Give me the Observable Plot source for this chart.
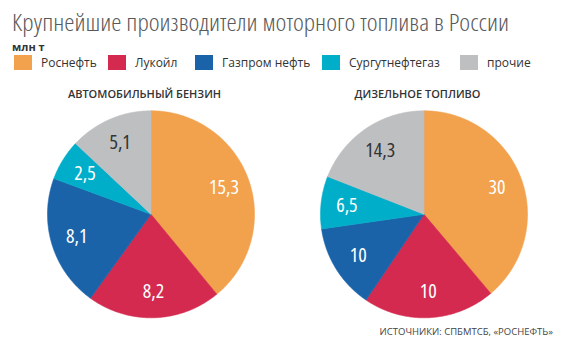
<!DOCTYPE html>
<html>
<head>
<meta charset="utf-8">
<script src="https://cdn.jsdelivr.net/npm/d3@7"></script>
<script src="https://cdn.jsdelivr.net/npm/@observablehq/plot@0.6"></script>
<style>
  html, body { margin: 0; padding: 0; background: #fff; }
  body { width: 570px; height: 353px; overflow: hidden; font-family: "Open Sans", sans-serif; position: relative; }
  #header { position: relative; height: 80px; }
  #title { position: absolute; left: 12px; top: 10px; font-size: 23px; font-weight: 300; color: #58595b; white-space: nowrap; line-height: 24px; font-stretch: 80%; transform-origin: 0 50%; }
  #unit { position: absolute; left: 12px; top: 39.5px; font-size: 11px; font-weight: 700; color: #333; line-height: 13px; }
  #legend { position: absolute; left: 0; top: 55px; width: 570px; height: 16px; }
  .item { position: absolute; top: 0; display: flex; align-items: center; font-size: 12px; color: #333; line-height: 15px; white-space: nowrap; }
  .sw { width: 18px; height: 15px; margin-right: 9px; }
  #source { position: absolute; right: 17px; top: 325px; font-size: 9.5px; color: #444; white-space: nowrap; }
</style>
</head>
<body>
<div id="header">
  <div id="title"></div>
  <div id="unit"></div>
  <div id="legend"></div>
</div>
<div id="chart"></div>
<div id="source"></div>
<script>
// ---- data ----
const titleText = "Крупнейшие производители моторного топлива в России";
const unitText = "млн т";
const sourceText = "ИСТОЧНИКИ: СПБМТСБ, «РОСНЕФТЬ»";
const companies = ["Роснефть", "Лукойл", "Газпром нефть", "Сургутнефтегаз", "прочие"];
const colors = ["#f2a14d", "#d42a4f", "#1b63a9", "#00aeca", "#bebfc1"];
const charts = ["АВТОМОБИЛЬНЫЙ БЕНЗИН", "ДИЗЕЛЬНОЕ ТОПЛИВО"];
// labelled values, mln t
const petrolValues = [15.3, 8.2, 8.1, 2.5, 5.1];
const dieselValues = [30, 10, 10, 6.5, 14.3];
// slice sizes as drawn in the diesel pie (mln t)
const dieselDrawn = [27.5, 14.6, 9.4, 5.8, 13.5];
const petrolLabels = ["15,3", "8,2", "8,1", "2,5", "5,1"];
const dieselLabels = ["30", "10", "10", "6,5", "14,3"];

// ---- header ----
const titleEl = document.getElementById("title");
titleEl.textContent = titleText;
document.getElementById("unit").textContent = unitText;
document.getElementById("source").textContent = sourceText;
const legend = document.getElementById("legend");
const legendLeft = [14, 108, 195, 322, 460];
companies.forEach((c, i) => {
  const it = document.createElement("div");
  it.className = "item";
  it.style.left = legendLeft[i] + "px";
  const sw = document.createElement("div");
  sw.className = "sw";
  sw.style.background = colors[i];
  const t = document.createElement("span");
  t.textContent = c;
  it.appendChild(sw); it.appendChild(t);
  legend.appendChild(it);
});
// fit the title to its width in the reference
const tw = titleEl.getBoundingClientRect().width;
titleEl.style.transform = `scaleX(${497 / tw})`;

// ---- build slice geometry through d3.pie (angles) ----
const pies = [
  {chart: charts[0], sizes: petrolValues, labels: petrolLabels},
  {chart: charts[1], sizes: dieselDrawn, labels: dieselLabels}
];
const slicePts = [];
const labelPts = [];
const step = Math.PI / 360;
const labelR = 0.75;
for (const p of pies) {
  const arcs = d3.pie().sort(null).value(d => d)(p.sizes);
  arcs.forEach((a, i) => {
    const key = p.chart + "|" + companies[i];
    const n = Math.max(2, Math.ceil((a.endAngle - a.startAngle) / step));
    slicePts.push({chart: p.chart, company: companies[i], key, x: 0, y: 0});
    for (let k = 0; k <= n; k++) {
      const t = a.startAngle + (a.endAngle - a.startAngle) * k / n;
      slicePts.push({chart: p.chart, company: companies[i], key, x: Math.sin(t), y: Math.cos(t)});
    }
    slicePts.push({chart: p.chart, company: companies[i], key, x: 0, y: 0});
    const m = (a.startAngle + a.endAngle) / 2;
    labelPts.push({chart: p.chart, company: companies[i], label: p.labels[i], x: labelR * Math.sin(m), y: labelR * Math.cos(m)});
  });
}

const W = 570, H = 242;
const R = 103.5;
const mL = 14.2, mR = W - mL - 2 * 273;
const halfX = 136.5 / R;
const cy = 133.8;

const plot = Plot.plot({
  width: W,
  height: H,
  marginLeft: mL,
  marginRight: mR,
  marginTop: 0,
  marginBottom: 0,
  fx: {domain: charts, padding: 0, axis: null},
  x: {domain: [-halfX, halfX], axis: null},
  y: {domain: [-(H - cy) / R, cy / R], axis: null},
  color: {domain: companies, range: colors},
  style: {fontFamily: "'Open Sans', sans-serif", background: "transparent"},
  marks: [
    Plot.line(slicePts, {fx: "chart", x: "x", y: "y", z: "key", fill: "company", stroke: "company", strokeWidth: 0.6, curve: "linear"}),
    Plot.text(labelPts.filter(d => d.company !== "прочие"), {fx: "chart", x: "x", y: "y", text: "label", fill: "white", fontSize: 20}),
    Plot.text(labelPts.filter(d => d.company === "прочие"), {fx: "chart", x: "x", y: "y", text: "label", fill: "#333333", fontSize: 20}),
    Plot.text(charts, {fx: d => d, text: d => d, frameAnchor: "top", dy: 10, dx: -6.5, fontSize: 11, fontWeight: 600, fill: "#333333"})
  ]
});
plot.querySelectorAll("g[aria-label='text']").forEach((g, i) => { if (i < 2) g.querySelectorAll("text").forEach(t => t.style.fontStretch = "82%"); });
document.getElementById("chart").appendChild(plot);
</script>
</body>
</html>
